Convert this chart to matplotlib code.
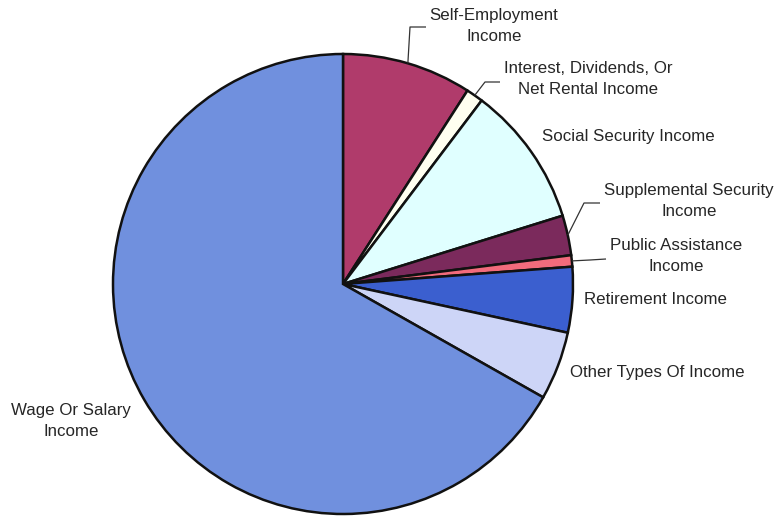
import numpy as np
import matplotlib
matplotlib.use("Agg")
import matplotlib.pyplot as plt

plt.rcParams['font.family'] = ['Liberation Sans', 'DejaVu Sans']

# Income sources, clockwise from 12 o'clock (percent of total)
categories = [
    "Self-Employment\nIncome",
    "Interest, Dividends, Or\nNet Rental Income",
    "Social Security Income",
    "Supplemental Security\nIncome",
    "Public Assistance\nIncome",
    "Retirement Income",
    "Other Types Of Income",
    "Wage Or Salary\nIncome",
]
shares = [9.1, 1.2, 9.9, 2.8, 0.8, 4.6, 4.8, 66.8]
colors = ["#B03B6B", "#FFFFF0", "#E0FFFF", "#7B2A5C",
          "#F26B7C", "#3B5FCF", "#CDD5F7", "#7090DE"]

W, H = 781, 517
CX, CY, R = 343, 284, 230  # pie centre and radius in pixels


def px(x, y):
    """Pixel position (from top-left) to data units of the pie axes."""
    return (x - CX) / R, (CY - y) / R


fig = plt.figure(figsize=(W / 100, H / 100), dpi=100)
ax = fig.add_axes([0, 0, 1, 1])
wedges, _ = ax.pie(shares, colors=colors, startangle=90, counterclock=False,
                   radius=1.0, center=(0, 0),
                   wedgeprops=dict(edgecolor="#111111", linewidth=1.8))
ax.set_xlim(-CX / R, (W - CX) / R)
ax.set_ylim(-(H - CY) / R, CY / R)
ax.set_aspect("equal")
ax.axis("off")

# label centres (pixels) and optional leader elbows
label_pos = [(494, 26), (588, 79), (628, 137), (689, 201),
             (676, 256), (656, 299), (657, 373), (71, 421)]
leaders = {
    0: [(410, 27), (426, 27)],
    1: [(485, 82), (500, 82)],
    3: [(584, 203), (600, 203)],
    4: [(590, 260), (606, 259)],
}

text_kw = dict(ha="center", va="center", fontsize=12.2, color="#262626",
               linespacing=1.5)
for i, (lab, w) in enumerate(zip(categories, wedges)):
    tx, ty = px(*label_pos[i])
    ax.text(tx, ty, lab, **text_kw)
    if i in leaders:
        mid = np.deg2rad((w.theta1 + w.theta2) / 2)
        pts = [(np.cos(mid), np.sin(mid))] + [px(*p) for p in leaders[i]]
        xs, ys = zip(*pts)
        ax.plot(xs, ys, color="#333333", lw=0.9, solid_capstyle="butt")

fig.savefig("out.png", dpi=100)
